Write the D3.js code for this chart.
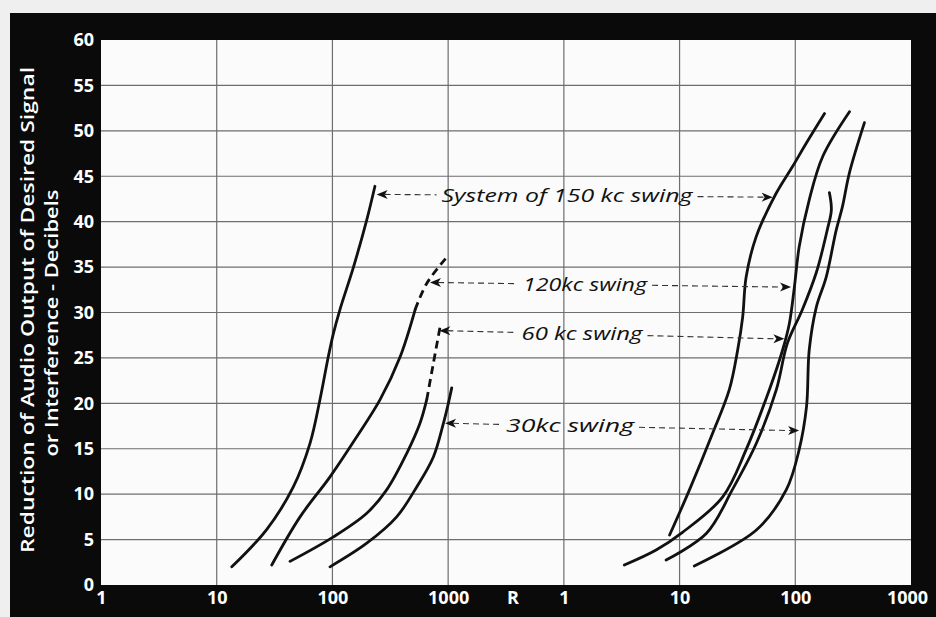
<!DOCTYPE html>
<html><head><meta charset="utf-8">
<script src="https://cdn.jsdelivr.net/npm/d3@7"></script>
<style>
html,body{margin:0;padding:0;background:#efefef;}
svg{display:block;}
</style>
</head><body>
<svg id="chart" width="936" height="617"></svg>
<script>
// Axis ticks: decades of R on both halves, decibels every 5
const rTicks = [1, 10, 100, 1000];
const dbTicks = d3.range(0, 61, 5);

// Curves as [R, reduction in dB]; left group
const left150 = [[13.5,2.0],[27,6.1],[45.9,10.8],[64,15.6],[78,20.4],[92,25.1],[102,27.7],[116,30.3],[152,35.0],[198,40.2],[233,43.9]];
const left120Solid = [[29.9,2.2],[52.5,7.5],[95.3,11.9],[162,16.3],[258,20.4],[384,25.1],[518,30.3]];
const left120Dashed = [[518,30.3],[653,33.2],[1004,36.3]];
const left60Solid = [[43,2.6],[102,5.3],[198,7.9],[295,10.5],[439,14.5],[571,17.8],[653,20.4]];
const left60Dashed = [[653,20.4],[745,24.4],[851,28.4]];
const left30 = [[95.3,2.0],[198,4.6],[359,7.5],[535,10.8],[745,14.1],[910,17.8],[1004,20.0],[1074,21.7]];

// Right group
const right150 = [[8.2,5.5],[12.2,10.5],[19.3,16.7],[26.9,21.5],[31.8,25.9],[35.1,29.5],[37.6,33.9],[45.8,38.3],[68.2,43.1],[95,46.1],[124,48.6],[179,51.9]];
const right120 = [[3.33,2.2],[6.27,3.85],[10.6,5.8],[23.6,9.7],[37.6,14.9],[59.7,21.5],[77.8,25.9],[88.9,28.8],[98.2,32.8],[108,37.2],[132,42.4],[173,47.2],[294,52.1]];
const right60 = [[7.65,2.75],[17.1,5.7],[28.6,10.5],[46.1,15.6],[68.6,21.5],[85.4,26.6],[115,30.3],[152,34.4],[189,39.1],[205,41.3],[197,43.2]];
const right30 = [[13.4,2.1],[46.1,6.05],[83.7,10.5],[108,14.9],[125,19.6],[132,25.9],[152,30.6],[185,33.9],[226,39.1],[255,41.6],[294,45.4],[396,50.9]];

// Swing labels with the points their leader arrows touch: [R, dB] on each half
const swingLabels = ["System of 150 kc swing", "120kc swing", "60 kc swing", "30kc swing"];
const leftTips  = [[241,43.0],[697,33.3],[839,28.0],[940,17.8]];
const rightTips = [[63.8,42.7],[91.9,32.8],[80.5,27.1],[108,17.0]];

// Layout
const plot = {left:101, right:911, top:40, bottom:585};
const decade = (plot.right - plot.left) / 7;
const labelBox = [ {cx:567, w:251}, {cx:585, w:124}, {cx:582, w:121}, {cx:570, w:128} ];

const svg = d3.select("#chart");
const xL = d3.scaleLog().domain([1,1000]).range([plot.left, plot.left + 3*decade]);
const xR = d3.scaleLog().domain([1,1000]).range([plot.right - 3*decade, plot.right]);
const y = d3.scaleLinear().domain([0,60]).range([plot.bottom, plot.top]);

// paper, black mount and white grid sheet
svg.append("rect").attr("width",936).attr("height",617).attr("fill","#efefef");
svg.append("rect").attr("x",10).attr("y",13).attr("width",926).attr("height",604).attr("fill","#0a0a0a");
svg.append("rect").attr("x",plot.left).attr("y",plot.top)
  .attr("width",plot.right-plot.left).attr("height",plot.bottom-plot.top).attr("fill","#fbfbfb");

// grid
const grid = svg.append("g").attr("stroke","#6e6e6e").attr("stroke-width",1.2);
grid.selectAll("line.h").data(dbTicks.slice(1,-1)).join("line")
  .attr("x1",plot.left).attr("x2",plot.right)
  .attr("y1",d=>y(d)).attr("y2",d=>y(d));
const vx = rTicks.map(d=>xL(d)).concat(rTicks.map(d=>xR(d))).filter(v=>v>plot.left+1 && v<plot.right-1);
grid.selectAll("line.v").data(vx).join("line")
  .attr("x1",d=>d).attr("x2",d=>d).attr("y1",plot.top).attr("y2",plot.bottom);

// axes
const tickFont = g => g.selectAll("text")
  .attr("fill","#fff").attr("font-family","'Open Sans', sans-serif")
  .attr("font-weight",700).attr("font-size",18);

const yAx = svg.append("g").attr("transform",`translate(${plot.left},0)`)
  .call(d3.axisLeft(y).tickValues(dbTicks).tickSize(0).tickPadding(7));
yAx.select(".domain").remove(); yAx.call(tickFont);

const xAxL = svg.append("g").attr("transform",`translate(0,${plot.bottom})`)
  .call(d3.axisBottom(xL).tickValues(rTicks).tickFormat(d3.format("d")).tickSize(0).tickPadding(6));
xAxL.select(".domain").remove(); xAxL.call(tickFont);
const xAxR = svg.append("g").attr("transform",`translate(0,${plot.bottom})`)
  .call(d3.axisBottom(xR).tickValues(rTicks).tickFormat(d3.format("d")).tickSize(0).tickPadding(6));
xAxR.select(".domain").remove(); xAxR.call(tickFont);
xAxR.selectAll(".tick").filter(d=>d===1000).select("text").attr("dx",-4);

svg.append("text").text("R")
  .attr("x",(xL(1000)+xR(1))/2 + 7).attr("y",plot.bottom+6).attr("dy","0.71em")
  .attr("text-anchor","middle").call(s=>s.attr("fill","#fff").attr("font-family","'Open Sans', sans-serif").attr("font-weight",700).attr("font-size",18));

// y title, two lines
const titleLines = [
  {t:"Reduction of Audio Output of Desired Signal", x:28, y:310, len:486},
  {t:"or Interference - Decibels", x:52, y:323, len:267}
];
svg.selectAll("text.ytitle").data(titleLines).join("text").attr("class","ytitle")
  .attr("transform",d=>`translate(${d.x},${d.y}) rotate(-90)`)
  .attr("text-anchor","middle").attr("dy","0.35em")
  .attr("textLength",d=>d.len).attr("lengthAdjust","spacingAndGlyphs")
  .attr("fill","#fff").attr("font-family","'Open Sans', sans-serif")
  .attr("font-weight",600).attr("font-size",18).text(d=>d.t);

// curves
const lineL = d3.line().x(d=>xL(d[0])).y(d=>y(d[1])).curve(d3.curveCatmullRom.alpha(0.5));
const lineR = d3.line().x(d=>xR(d[0])).y(d=>y(d[1])).curve(d3.curveCatmullRom.alpha(0.5));
const curves = svg.append("g").attr("fill","none").attr("stroke","#111")
  .attr("stroke-width",2.8).attr("stroke-linecap","round").attr("stroke-linejoin","round");
[left150, left120Solid, left60Solid, left30].forEach(d=>curves.append("path").attr("d",lineL(d)));
[left120Dashed, left60Dashed].forEach(d=>curves.append("path").attr("d",lineL(d))
  .attr("stroke-dasharray","8,5").attr("stroke-linecap","butt"));
[right150, right120, right60, right30].forEach(d=>curves.append("path").attr("d",lineR(d)));

// leaders and labels
const ann = svg.append("g");
const arrowHead = (x0,y0,dir) => {
  // small barbed head pointing in direction dir (-1 left, +1 right)
  const s = dir;
  return `M${x0},${y0} L${x0 - s*11},${y0-4.5} L${x0 - s*8},${y0} L${x0 - s*11},${y0+4.5} Z`;
};
swingLabels.forEach((label,i)=>{
  const ax = xL(leftTips[i][0]), ay = y(leftTips[i][1]);
  const bx = xR(rightTips[i][0]), by = y(rightTips[i][1]);
  const box = labelBox[i];
  const yAt = x => ay + (by-ay)*(x-ax)/(bx-ax);
  const t0 = box.cx - box.w/2 - 5, t1 = box.cx + box.w/2 + 5;
  ann.append("line").attr("x1",ax+8).attr("y1",ay).attr("x2",t0).attr("y2",yAt(t0))
    .attr("stroke","#333").attr("stroke-width",1.1).attr("stroke-dasharray","6,4");
  ann.append("line").attr("x1",t1).attr("y1",yAt(t1)).attr("x2",bx-8).attr("y2",by)
    .attr("stroke","#333").attr("stroke-width",1.1).attr("stroke-dasharray","6,4");
  ann.append("path").attr("d",arrowHead(ax,ay,-1)).attr("fill","#111");
  ann.append("path").attr("d",arrowHead(bx,by,1)).attr("fill","#111");
  ann.append("text").text(label)
    .attr("x",box.cx).attr("y",yAt(box.cx)).attr("dy","0.33em")
    .attr("text-anchor","middle")
    .attr("textLength",box.w).attr("lengthAdjust","spacingAndGlyphs")
    .attr("font-family","'Open Sans', sans-serif").attr("font-style","italic")
    .attr("font-size",19).attr("fill","#111");
});
</script>
</body></html>
